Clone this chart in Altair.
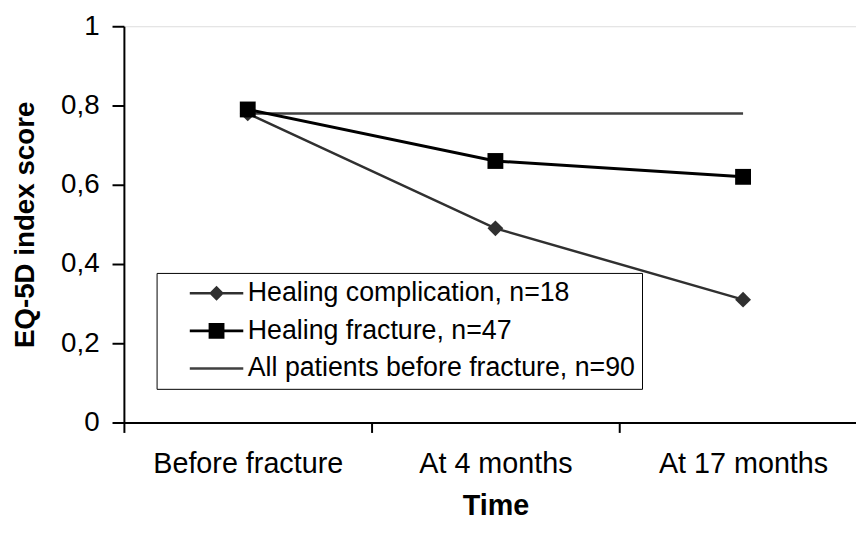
import altair as alt
import pandas as pd

# ---- data ----
times = ["Before fracture", "At 4 months", "At 17 months"]
series_names = [
    "Healing complication, n=18",
    "Healing fracture, n=47",
    "All patients before fracture, n=90",
]
complication = [0.78, 0.49, 0.31]
fracture = [0.79, 0.66, 0.62]
all_patients = [0.78, 0.78, 0.78]
y_ticks = [0, 0.2, 0.4, 0.6, 0.8, 1.0]
series_colors = ["#303030", "#000000", "#404040"]

rows = []
for name, vals in zip(series_names, [complication, fracture, all_patients]):
    for t, v in zip(times, vals):
        rows.append({"time": t, "series": name, "value": v})
df = pd.DataFrame(rows)

FONT = "Liberation Sans"

x_enc = alt.X(
    "time:N",
    sort=times,
    scale=alt.Scale(type="band", domain=times, range=[0, 750],
                    paddingInner=0, paddingOuter=0),
    axis=alt.Axis(
        title="Time", labelAngle=0, tickBand="extent", labelLimit=400,
        tickSize=10, tickWidth=2, tickColor="black", domainColor="black",
        domainWidth=2, labelFontSize=29, labelPadding=17, labelFont=FONT,
        labelColor="black", titleFontSize=29, titleFontWeight="bold",
        titleFont=FONT, titleColor="black", titlePadding=14, titleX=375,
        grid=False, zindex=1,
    ),
)
y_enc = alt.Y(
    "value:Q",
    scale=alt.Scale(domain=[0, 1], nice=False),
    axis=alt.Axis(
        title="EQ-5D index score", values=y_ticks,
        labelExpr="replace(format(datum.value, '.1~f'), '.', ',')",
        tickSize=12, tickWidth=2, tickColor="black", domainColor="black",
        domainWidth=2, labelFontSize=28, labelPadding=13, labelFont=FONT,
        labelColor="black", titleFontSize=28, titleFontWeight="bold",
        titleFont=FONT, titleColor="black", titlePadding=21, grid=False,
        zindex=1,
    ),
)

base = alt.Chart(df)

line_comp = base.transform_filter(alt.datum.series == series_names[0]).mark_line(
    color=series_colors[0], strokeWidth=2.5).encode(x=x_enc, y=y_enc)
line_frac = base.transform_filter(alt.datum.series == series_names[1]).mark_line(
    color=series_colors[1], strokeWidth=3).encode(x=x_enc, y=y_enc)
line_all = base.transform_filter(alt.datum.series == series_names[2]).mark_line(
    color=series_colors[2], strokeWidth=2.5).encode(x=x_enc, y=y_enc)

# visible markers on the plot
points = base.transform_filter(alt.datum.series != series_names[2]).mark_point(
    filled=True, opacity=1).encode(
    x=x_enc, y=y_enc,
    color=alt.Color("series:N", scale=alt.Scale(domain=series_names, range=series_colors),
                    legend=None),
    shape=alt.Shape("series:N", scale=alt.Scale(domain=series_names,
                    range=["diamond", "square", "circle"]), legend=None),
    size=alt.Size("series:N", scale=alt.Scale(domain=series_names, range=[256, 256, 0]),
                  legend=None),
)

# legend symbols: line segment + marker, drawn as filled paths
lg_diamond = "M-2.7,-0.12H2.7V0.12H-2.7ZM0,-0.75L0.75,0L0,0.75L-0.75,0Z"
lg_square = "M-2.7,-0.14H2.7V0.14H-2.7ZM-0.8,-0.8H0.8V0.8H-0.8Z"
lg_line = "M-2.7,-0.12H2.7V0.12H-2.7Z"

legend = alt.Legend(
    title=None, orient="none", legendX=33, legendY=249, direction="vertical",
    strokeColor="black", padding=7, labelFontSize=27, labelFont=FONT,
    labelColor="black", labelLimit=800, symbolSize=400, symbolOffset=40,
    labelOffset=18, rowPadding=10,
    labelExpr="datum.label + '\u00a0\u00a0\u00a0'",
    symbolStrokeWidth=0, symbolOpacity=1,
)

legend_layer = base.mark_point(filled=True, opacity=0).encode(
    x=x_enc, y=y_enc,
    color=alt.Color("series:N", scale=alt.Scale(domain=series_names, range=series_colors),
                    legend=legend),
    shape=alt.Shape("series:N", scale=alt.Scale(domain=series_names,
                    range=[lg_diamond, lg_square, lg_line]), legend=legend),
)

chart = alt.layer(line_all, line_comp, line_frac, points, legend_layer).resolve_scale(
    shape="independent", color="independent", size="independent"
).properties(
    width=739, height=400,
    autosize=alt.AutoSizeParams(type="none"),
    padding={"left": 117, "top": 16, "right": 0, "bottom": 99},
).configure_view(stroke="#999999", strokeWidth=2).configure_legend(
    strokeWidth=2
).configure(background="white")

chart.save("out.html", embed_options={"renderer": "svg", "actions": False})
